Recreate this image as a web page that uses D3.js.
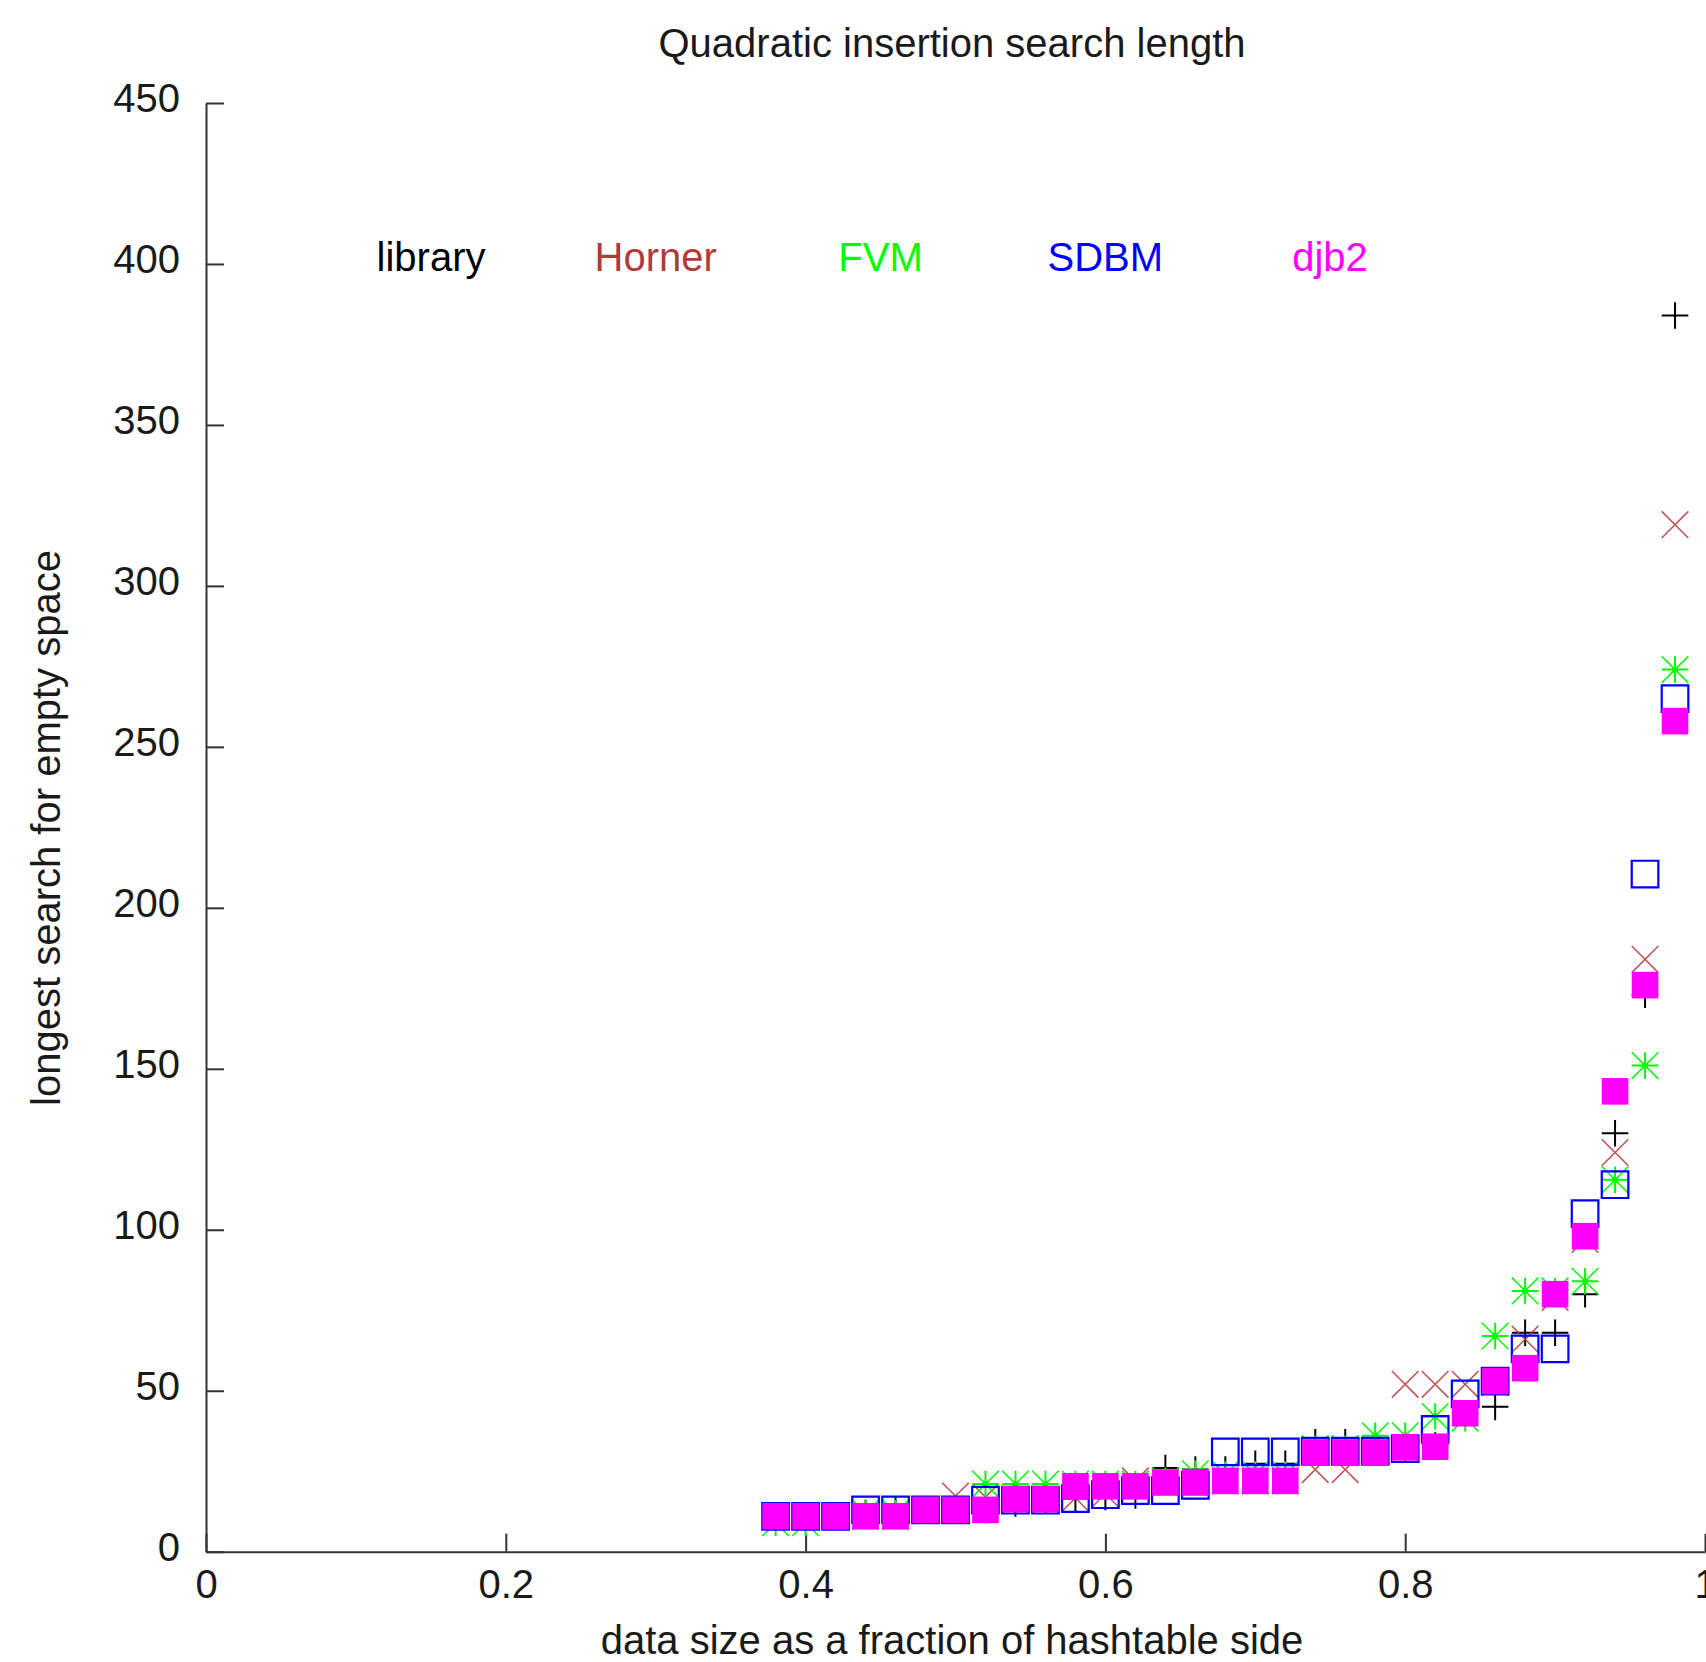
<!DOCTYPE html>
<html>
<head>
<meta charset="utf-8">
<script src="https://cdn.jsdelivr.net/npm/d3@7"></script>
<style>
  body { margin: 0; background: #fff; }
  text { font-family: "Liberation Sans", Arial, Helvetica, sans-serif; }
</style>
</head>
<body>
<svg id="chart" width="1706" height="1662"></svg>
<script>
// Load factor of the table (data size / table size)
const loadFactors = [0.38, 0.40, 0.42, 0.44, 0.46, 0.48, 0.50, 0.52, 0.54, 0.56,
                     0.58, 0.60, 0.62, 0.64, 0.66, 0.68, 0.70, 0.72, 0.74, 0.76,
                     0.78, 0.80, 0.82, 0.84, 0.86, 0.88, 0.90, 0.92, 0.94, 0.96, 0.98];

// Longest probe sequence needed to find an empty slot, per hash function
const library = [11, 11, 11, 12, 13, 13, 13, 13, 15, 16,
                 16.5, 17, 17.5, 26, 25.5, 25.5, 27.3, 27.3, 34, 34,
                 31, 32, 33, 43, 45, 68, 68, 80, 130, 173, 384];
const horner  = [11, 11, 11, 11, 11, 13, 17.3, 17, 16, 16,
                 16.7, 18, 22, 21.5, 21.5, 22, 22, 22, 25.5, 25.5,
                 31, 52, 52, 52, 52.5, 66, 79, 97, 124, 184, 319];
const fvm     = [9, 9, 11, 12, 12, 13, 13, 21, 21, 21,
                 21, 21, 21, 22, 24.2, 24, 24, 24, 32, 32,
                 36, 36, 42, 41.5, 67, 81, 81, 84, 115.5, 151, 274];
const sdbm    = [11, 11, 11, 13, 13, 13, 13, 16, 16, 16,
                 16.5, 17.7, 19, 19, 20.6, 31, 31, 31, 31.2, 31.2,
                 31.2, 32, 38, 49, 53, 63, 63, 105, 114, 210.5, 265];
const djb2    = [11, 11, 11, 11, 11, 13, 13, 13, 16.3, 16.3,
                 20.3, 20.3, 20.3, 21.5, 21.5, 22, 22, 22, 30.8, 30.8,
                 30.8, 32.4, 32.6, 43, 53, 57, 80, 98, 143, 176, 258];

const seriesNames  = ["library", "Horner", "FVM", "SDBM", "djb2"];
const seriesValues = [library, horner, fvm, sdbm, djb2];

const xTicks = [0, 0.2, 0.4, 0.6, 0.8, 1];
const yTicks = [0, 50, 100, 150, 200, 250, 300, 350, 400, 450];

const titleText  = "Quadratic insertion search length";
const xLabelText = "data size as a fraction of hashtable side";
const yLabelText = "longest search for empty space";

// ---- appearance ----
const colors = {
  library: "#000000",
  Horner:  "#b23a3a",
  FVM:     "#00ff00",
  SDBM:    "#0000ff",
  djb2:    "#ff00ff"
};
const axisColor = "#333333";
const textColor = "#1a1a1a";
const fontSize = 40;
const half = 13.3; // half the marker side

const svg = d3.select("#chart");
svg.append("rect").attr("width", 1706).attr("height", 1662).attr("fill", "#fff");

const x = d3.scaleLinear().domain([0, 1]).range([206, 1705]);
const y = d3.scaleLinear().domain([0, 450]).range([1551.7, 103]);

// axes with inward ticks
const xAxis = d3.axisBottom(x).tickValues(xTicks).tickSizeInner(-18).tickSizeOuter(0)
  .tickFormat(d => String(+d.toFixed(1)));
const yAxis = d3.axisLeft(y).tickValues(yTicks).tickSizeInner(-18).tickSizeOuter(0)
  .tickPadding(26).tickFormat(d => String(d));

const gx = svg.append("g").attr("transform", `translate(0,${y(0)})`).call(xAxis);
const gy = svg.append("g").attr("transform", `translate(${x(0)},0)`).call(yAxis);

[gx, gy].forEach(g => {
  g.select(".domain").attr("stroke", axisColor).attr("stroke-width", 2);
  g.selectAll(".tick line").attr("stroke", axisColor).attr("stroke-width", 2);
  g.selectAll(".tick text").attr("fill", textColor).style("font-size", fontSize + "px")
    .attr("font-family", null);
  g.attr("font-family", null).attr("font-size", null);
});
gx.selectAll(".tick text").attr("y", 46).attr("dy", null);
gy.selectAll(".tick text").attr("dy", "0.21em");

// title and axis labels
svg.append("text").attr("x", 952).attr("y", 57).attr("text-anchor", "middle")
  .attr("fill", textColor).style("font-size", fontSize + "px").text(titleText);
svg.append("text").attr("x", 952).attr("y", 1654).attr("text-anchor", "middle")
  .attr("fill", textColor).style("font-size", fontSize + "px").text(xLabelText);
svg.append("text").attr("transform", "translate(60,828) rotate(-90)")
  .attr("text-anchor", "middle").attr("fill", textColor)
  .style("font-size", fontSize + "px").text(yLabelText);

// key: names only, spread across the top of the plot
const keyX = d3.scalePoint().domain(seriesNames).range([431, 1330]);
svg.append("g").selectAll("text").data(seriesNames).join("text")
  .attr("x", d => keyX(d)).attr("y", 271).attr("text-anchor", "middle")
  .attr("fill", d => colors[d]).style("font-size", fontSize + "px").text(d => d);

// point symbols
const h = half;
const plusPath  = `M${-h},0H${h}M0,${-h}V${h}`;
const timesPath = `M${-h},${-h}L${h},${h}M${-h},${h}L${h},${-h}`;
const squarePath = `M${-h},${-h}H${h}V${h}H${-h}Z`;

const plot = svg.append("g");
function points(values) {
  return loadFactors.map((lf, i) => ({ lf, v: values[i] }));
}
function place(sel) {
  return sel.attr("transform", d => `translate(${x(d.lf)},${y(d.v)})`);
}

// library: plus
place(plot.append("g").selectAll("path").data(points(library)).join("path"))
  .attr("d", plusPath).attr("fill", "none").attr("stroke", colors.library).attr("stroke-width", 2);

// Horner: cross
place(plot.append("g").selectAll("path").data(points(horner)).join("path"))
  .attr("d", timesPath).attr("fill", "none").attr("stroke", colors.Horner)
  .attr("stroke-width", 1.6).attr("stroke-opacity", 0.85);

// FVM: asterisk
const fvmG = place(plot.append("g").selectAll("g").data(points(fvm)).join("g"));
fvmG.append("path").attr("d", plusPath).attr("fill", "none")
  .attr("stroke", colors.FVM).attr("stroke-width", 2);
fvmG.append("path").attr("d", timesPath).attr("fill", "none")
  .attr("stroke", colors.FVM).attr("stroke-width", 1.5);
fvmG.append("circle").attr("r", 3.2).attr("fill", colors.FVM);

// SDBM: open square
place(plot.append("g").selectAll("path").data(points(sdbm)).join("path"))
  .attr("d", squarePath).attr("fill", "none").attr("stroke", colors.SDBM).attr("stroke-width", 2.2);

// djb2: filled square
place(plot.append("g").selectAll("path").data(points(djb2)).join("path"))
  .attr("d", squarePath).attr("fill", colors.djb2);
</script>
</body>
</html>
